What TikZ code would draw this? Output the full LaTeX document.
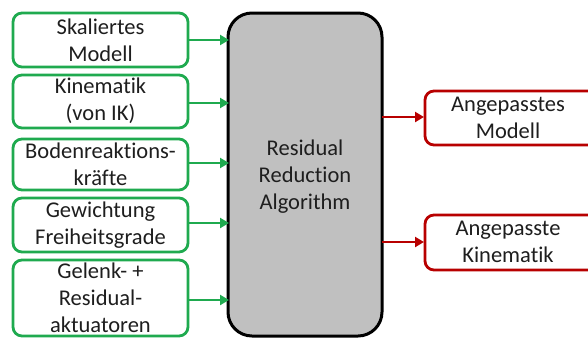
\documentclass[tikz,border=0pt]{standalone}
\usepackage{fontspec}
\setmainfont{Carlito}[Ligatures=NoCommon]
\usetikzlibrary{arrows.meta}
\definecolor{ingreen}{HTML}{1FAA4F}
\definecolor{outred}{HTML}{B80000}
\definecolor{algfill}{HTML}{C0C0C0}
\definecolor{txt}{HTML}{1E1E1E}
\tikzset{
  inbox/.style={draw=ingreen, line width=2.8pt, rounded corners=9pt, fill=white},
  outbox/.style={draw=outred, line width=2.8pt, rounded corners=9pt, fill=white},
  lbl/.style={text=txt, font=\fontsize{22.5}{27}\selectfont, align=center, inner sep=0pt},
  inarrow/.style={draw=ingreen, line width=2.6pt, -{Triangle[length=9pt,width=10pt]}},
  outarrow/.style={draw=outred, line width=2.6pt, -{Triangle[length=9pt,width=10pt]}},
}
\begin{document}
\begin{tikzpicture}[x=1pt,y=-1pt]
\useasboundingbox (0,0) rectangle (588,338);
\begin{scope}
\clip (0,0) rectangle (588,338);

% input boxes
\draw[inbox] (13,13)  rectangle (188,67);
\draw[inbox] (13,75)  rectangle (188,128);
\draw[inbox] (13,139) rectangle (188,190);
\draw[inbox] (13,198) rectangle (188,252);
\draw[inbox] (13,260) rectangle (188,336);

\node[lbl] (in1) at (100.5,40)  {Skaliertes\\Modell};
\node[lbl] (in2) at (100.5,101) {Kinematik\\(von IK)};
\node[lbl] (in3) at (100.5,164) {Bodenreaktions-\\kräfte};
\node[lbl] (in4) at (100.5,225) {Gewichtung\\Freiheitsgrade};
\node[lbl] (in5) at (100.5,298) {Gelenk- +\\Residual-\\aktuatoren};

% central algorithm block
\draw[draw=black, fill=algfill, line width=3pt, rounded corners=24pt]
  (228,13) rectangle (382,336);
\node[lbl] (alg) at (305,177) {Residual\\Reduction\\Algorithm};

% output boxes
\draw[outbox] (425,91)  rectangle (620,145);
\draw[outbox] (425,215) rectangle (620,270);
\node[lbl] (out1) at (508,118) {Angepasstes\\Modell};
\node[lbl] (out2) at (508,242) {Angepasste\\Kinematik};

% named anchor points for the connectors
\coordinate (s1) at (188,40);  \coordinate (t1) at (229,40);
\coordinate (s2) at (188,103); \coordinate (t2) at (229,103);
\coordinate (s3) at (188,163); \coordinate (t3) at (229,163);
\coordinate (s4) at (188,223); \coordinate (t4) at (229,223);
\coordinate (s5) at (188,300); \coordinate (t5) at (229,300);
\coordinate (r1) at (382,117); \coordinate (o1) at (424,117);
\coordinate (r2) at (382,242); \coordinate (o2) at (424,242);

\draw[inarrow] (s1) -- (t1);
\draw[inarrow] (s2) -- (t2);
\draw[inarrow] (s3) -- (t3);
\draw[inarrow] (s4) -- (t4);
\draw[inarrow] (s5) -- (t5);
\draw[outarrow] (r1) -- (o1);
\draw[outarrow] (r2) -- (o2);
\end{scope}
\end{tikzpicture}
\end{document}
